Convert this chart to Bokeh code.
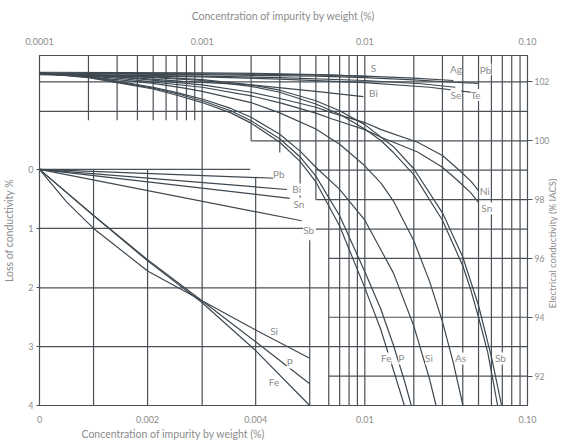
import math
from bokeh.plotting import figure
from bokeh.models import (Range1d, LinearScale, LinearAxis, FixedTicker,
                          ColumnDataSource, LabelSet, Title)
from bokeh.core.properties import value
from bokeh.embed import file_html
from bokeh.resources import INLINE

# ---------------- data ----------------
# main (log) chart: concentration (%) vs electrical conductivity (% IACS)
s_c = [0.0001, 0.001, 0.003, 0.006, 0.0105]
s_v = [102.33, 102.31, 102.28, 102.24, 102.18]
ag_c = [0.0001, 0.001, 0.005, 0.01, 0.02, 0.035]
ag_v = [102.30, 102.28, 102.24, 102.20, 102.13, 102.05]
pb_c = [0.0001, 0.001, 0.005, 0.01, 0.02, 0.035, 0.05]
pb_v = [102.28, 102.25, 102.20, 102.15, 102.07, 101.99, 101.95]
se_c = [0.0001, 0.001, 0.003, 0.01, 0.0222, 0.036]
se_v = [102.26, 102.20, 102.15, 102.05, 101.94, 101.82]
te_c = [0.0001, 0.001, 0.003, 0.01, 0.025, 0.05]
te_v = [102.25, 102.17, 102.10, 101.98, 101.82, 101.62]
bi_c = [0.0001, 0.0003, 0.00076, 0.002, 0.005, 0.0098]
bi_v = [102.27, 102.18, 102.02, 101.90, 101.68, 101.50]
ni_c = [0.0001, 0.0003, 0.001, 0.002, 0.0031, 0.005, 0.0063, 0.01, 0.0126,
        0.0211, 0.03, 0.0372, 0.045, 0.0501]
ni_v = [102.30, 102.17, 101.90, 101.65, 101.42, 101.14, 100.95, 100.62, 100.38,
        99.95, 99.50, 99.05, 98.62, 98.30]
sn_c = [0.0001, 0.0003, 0.001, 0.002, 0.0031, 0.005, 0.0063, 0.01, 0.0126,
        0.0211, 0.03, 0.0372, 0.045, 0.0501]
sn_v = [102.30, 102.13, 101.82, 101.53, 101.27, 100.94, 100.74, 100.38, 100.12,
        99.62, 99.10, 98.65, 98.22, 97.90]
fe_c = [0.0001, 0.0002, 0.0003, 0.0005, 0.0007, 0.001, 0.0015, 0.002, 0.003,
        0.004, 0.005, 0.007, 0.01, 0.0125, 0.015, 0.0175]
fe_v = [102.30, 102.15, 101.98, 101.76, 101.55, 101.30, 100.95, 100.60, 99.95,
        99.30, 98.60, 97.10, 95.00, 93.60, 92.20, 91.00]
p_c = [0.0001, 0.0002, 0.0003, 0.0005, 0.0007, 0.001, 0.0015, 0.002, 0.003,
       0.004, 0.005, 0.007, 0.01, 0.0125, 0.015, 0.0175, 0.0193]
p_v = [102.30, 102.17, 102.00, 101.79, 101.60, 101.36, 101.02, 100.68, 100.07,
       99.45, 98.80, 97.45, 95.55, 94.30, 93.05, 91.85, 91.00]
si_c = [0.0001, 0.0002, 0.0003, 0.0005, 0.0007, 0.001, 0.0015, 0.002, 0.003,
        0.004, 0.005, 0.007, 0.01, 0.015, 0.02, 0.025, 0.0274]
si_v = [102.30, 102.19, 102.03, 101.82, 101.64, 101.42, 101.10, 100.80, 100.22,
        99.65, 99.10, 98.35, 97.30, 95.50, 93.70, 91.90, 91.00]
as_c = [0.0001, 0.0003, 0.0005, 0.00076, 0.001, 0.002, 0.003, 0.005, 0.007,
        0.01, 0.0126, 0.015, 0.02, 0.025, 0.03, 0.035, 0.0401]
as_v = [102.30, 102.08, 101.95, 101.80, 101.68, 101.30, 100.95, 100.40, 99.88,
        99.15, 98.55, 97.95, 96.60, 95.22, 93.85, 92.45, 91.00]
sb_c = [0.0001, 0.0003, 0.0005, 0.001, 0.002, 0.003, 0.005, 0.007, 0.01, 0.0126,
        0.015, 0.02, 0.03, 0.04, 0.045, 0.05, 0.057, 0.0655]
sb_v = [102.30, 102.20, 102.15, 102.05, 101.85, 101.65, 101.25, 100.90, 100.40,
        100.00, 99.60, 98.85, 97.30, 95.75, 94.90, 94.00, 92.80, 91.00]
sb2_c = [0.0001, 0.0003, 0.0005, 0.001, 0.002, 0.003, 0.005, 0.007, 0.01, 0.015,
         0.02, 0.03, 0.04, 0.05, 0.06, 0.0693]
sb2_v = [102.30, 102.22, 102.17, 102.08, 101.90, 101.72, 101.36, 101.02, 100.55,
         99.80, 99.05, 97.55, 96.05, 94.40, 92.65, 91.00]

log_names = ["S", "Ag", "Pb", "Bi", "Se", "Te", "Ni", "Sn", "Fe", "P", "Si", "As", "Sb"]
log_label_c = [0.0113, 0.0363, 0.0553, 0.0113, 0.0363, 0.048, 0.0545, 0.0562,
               0.01355, 0.01677, 0.0248, 0.0388, 0.0681]
log_label_v = [102.48, 102.45, 102.42, 101.63, 101.56, 101.56, 98.31, 97.70,
               92.60, 92.60, 92.60, 92.60, 92.60]

# inset chart: concentration (%) vs loss of conductivity (%)
in_pb_c = [0, 0.00436];  in_pb_v = [0, 0.15]
in_bi_c = [0, 0.00458];  in_bi_v = [0, 0.34]
in_sn_c = [0, 0.00463];  in_sn_v = [0, 0.49]
in_sb_c = [0, 0.00485];  in_sb_v = [0, 0.87]
in_si_c = [0, 0.0005, 0.001, 0.002, 0.003, 0.004, 0.005]
in_si_v = [0, 0.55, 1.00, 1.72, 2.22, 2.72, 3.20]
in_p_c = [0, 0.001, 0.002, 0.003, 0.004, 0.005]
in_p_v = [0, 0.78, 1.53, 2.22, 2.92, 3.63]
in_fe_c = [0, 0.001, 0.002, 0.003, 0.004, 0.005]
in_fe_v = [0, 0.78, 1.55, 2.25, 3.07, 4.00]

in_names = ["Pb", "Bi", "Sn", "Sb", "Si", "P", "Fe"]
in_label_c = [0.00443, 0.00476, 0.0048, 0.00498, 0.00434, 0.00463, 0.00434]
in_label_v = [0.07, 0.34, 0.58, 1.02, 2.73, 3.27, 3.61]

# axis ticks
top_ticks = [0.0001, 0.001, 0.01, 0.1]
top_labels = ["0.0001", "0.001", "0.01", "0.10"]
right_ticks = [92, 94, 96, 98, 100, 102]
left_ticks = [0, 1, 2, 3, 4]
bottom_ticks = [0, 0.002, 0.004]
bottom_labels = ["0", "0.002", "0.004"]
bottom_log_ticks = [0.01, 0.1]
bottom_log_labels = ["0.01", "0.10"]

# grid of the log chart (value, lower end of the line in % IACS)
vgrid_c = [0.0002, 0.0003, 0.0004, 0.0005, 0.0006, 0.0007, 0.0008, 0.0009,
           0.001, 0.002, 0.003, 0.004, 0.005, 0.006, 0.007, 0.008, 0.009,
           0.01, 0.02, 0.03, 0.04, 0.05, 0.06, 0.07, 0.08, 0.09]
vgrid_low = [100.7, 100.7, 100.7, 100.7, 100.7, 100.7, 100.7, 100.7,
             91, 100, 99.6, 98, 98, 91, 91, 91, 91,
             91, 91, 91, 91, 91, 91, 91, 91, 91]
hgrid_v = [102, 101, 100, 99, 98, 97, 96, 95, 94, 93, 92]
hgrid_from = [0.0001, 0.0001, 0.002, 0.005, 0.005, 0.005, 0.006, 0.0001, 0.006, 0.0001, 0.006]
# grid of the inset (loss lines and concentration lines)
in_hgrid_v = [0, 1]
in_hgrid_to = [0.0039, 0.005]
in_vgrid_c = [0.001, 0.002, 0.004, 0.005]
in_vgrid_top = [0, 0, 0.14, 1.2]

# ---------------- styling ----------------
FONT = "Lato"
TXT = "#8c8c8c"
LINE = "#3e4850"
GRID = "#4a5056"
X_LO, X_HI = 0.0001, 0.1
Y_LO, Y_HI = 91, 102.9
INSET_X_END = 0.00903
LOSS_TOP = -1.93

p = figure(width=567, height=443, x_axis_type="log",
           x_range=Range1d(X_LO, X_HI), y_range=Range1d(Y_LO, Y_HI),
           x_axis_location="above", y_axis_location="right",
           toolbar_location=None, output_backend="svg",
           min_border_left=36, min_border_right=40, min_border_top=55,
           min_border_bottom=38)
p.extra_x_ranges = {"inset": Range1d(0, INSET_X_END)}
p.extra_x_scales = {"inset": LinearScale()}
p.extra_y_ranges = {"loss": Range1d(4, LOSS_TOP)}
p.extra_y_scales = {"loss": LinearScale()}
p.xgrid.visible = False
p.ygrid.visible = False
p.outline_line_color = GRID
p.outline_line_width = 1.2
p.background_fill_color = "white"
p.border_fill_color = "white"


def style_axis(ax, tick_out=0):
    ax.axis_line_color = GRID
    ax.major_tick_line_color = GRID
    ax.major_tick_out = tick_out
    ax.major_tick_in = 0
    ax.minor_tick_line_color = None
    ax.major_label_text_font = FONT
    ax.major_label_text_font_size = "9px"
    ax.major_label_text_color = TXT
    ax.axis_label_text_font = FONT
    ax.axis_label_text_font_size = "10.5px"
    ax.axis_label_text_font_style = "normal"
    ax.axis_label_text_color = TXT


top = p.xaxis[0]
top.ticker = FixedTicker(ticks=top_ticks)
top.major_label_overrides = dict(zip(top_ticks, top_labels))
top.axis_label = "Concentration of impurity by weight (%)"
style_axis(top)
top.major_label_standoff = 11
top.axis_label_standoff = 13

right = p.yaxis[0]
right.ticker = FixedTicker(ticks=right_ticks)
style_axis(right, tick_out=5)
right.major_label_standoff = 2
right.major_label_text_font_size = "8.5px"

# title of the conductivity scale, reading upwards from the lower part of the axis
right_title = LinearAxis(ticker=FixedTicker(ticks=[]),
                         axis_label="\u00a0" * 40 + "Electrical conductivity (% IACS)")
style_axis(right_title)
right_title.axis_line_color = None
right_title.axis_label_standoff = 0
right_title.major_label_standoff = 0
right_title.axis_label_text_font_size = "9.5px"
right_title.axis_label_orientation = math.pi / 2
right_title.axis_label_align = "start"
p.add_layout(right_title, "right")

left = LinearAxis(y_range_name="loss", ticker=FixedTicker(ticks=left_ticks),
                  bounds=(0, 4), axis_label="Loss of conductivity %")
style_axis(left, tick_out=3)
left.major_label_standoff = 3
left.axis_label_standoff = 10
p.add_layout(left, "left")


def log_to_inset(c):
    # position of a log-axis value on the (linear) inset x range
    return INSET_X_END * (math.log10(c) - math.log10(X_LO)) / (math.log10(X_HI) - math.log10(X_LO))


all_bottom_ticks = bottom_ticks + [log_to_inset(c) for c in bottom_log_ticks]
all_bottom_labels = bottom_labels + bottom_log_labels
bottom = LinearAxis(x_range_name="inset", ticker=FixedTicker(ticks=all_bottom_ticks))
bottom.major_label_overrides = dict(zip(all_bottom_ticks, all_bottom_labels))
style_axis(bottom)
bottom.major_label_standoff = 10
p.add_layout(bottom, "below")
p.add_layout(Title(text="Concentration of impurity by weight (%)", align="left",
                   offset=42, text_font=FONT, text_font_size="10.5px",
                   text_font_style="normal", text_color=TXT, standoff=0), "below")

# grid lines
p.segment(x0=vgrid_c, y0=vgrid_low, x1=vgrid_c, y1=[Y_HI] * len(vgrid_c),
          line_color=GRID, line_width=1.2)
p.segment(x0=hgrid_from, y0=hgrid_v, x1=[X_HI] * len(hgrid_v), y1=hgrid_v,
          line_color=GRID, line_width=1.2)
p.segment(x0=[0] * len(in_hgrid_v), y0=in_hgrid_v, x1=in_hgrid_to, y1=in_hgrid_v,
          line_color=GRID, line_width=1.2, x_range_name="inset", y_range_name="loss")
p.segment(x0=in_vgrid_c, y0=in_vgrid_top, x1=in_vgrid_c, y1=[4] * len(in_vgrid_c),
          line_color=GRID, line_width=1.2, x_range_name="inset", y_range_name="loss")

# curves of the log chart
for c, v in [(s_c, s_v), (ag_c, ag_v), (pb_c, pb_v), (se_c, se_v), (te_c, te_v),
             (bi_c, bi_v), (ni_c, ni_v), (sn_c, sn_v), (fe_c, fe_v), (p_c, p_v),
             (si_c, si_v), (as_c, as_v), (sb_c, sb_v), (sb2_c, sb2_v)]:
    p.line(c, v, line_color=LINE, line_width=1.2)

# curves of the inset
for c, v in [(in_pb_c, in_pb_v), (in_bi_c, in_bi_v), (in_sn_c, in_sn_v),
             (in_sb_c, in_sb_v), (in_si_c, in_si_v), (in_p_c, in_p_v),
             (in_fe_c, in_fe_v)]:
    p.line(c, v, line_color=LINE, line_width=1.2,
           x_range_name="inset", y_range_name="loss")

log_src = ColumnDataSource(dict(x=log_label_c, y=log_label_v, t=log_names))
p.add_layout(LabelSet(x="x", y="y", text="t", source=log_src,
                      text_font=value(FONT), text_font_size="10px", text_color=TXT,
                      text_align="center", text_baseline="middle",
                      background_fill_color="white"))
in_src = ColumnDataSource(dict(x=in_label_c, y=in_label_v, t=in_names))
p.add_layout(LabelSet(x="x", y="y", text="t", source=in_src,
                      x_range_name="inset", y_range_name="loss",
                      text_font=value(FONT), text_font_size="10px", text_color=TXT,
                      text_align="center", text_baseline="middle",
                      background_fill_color="white"))

open("out.html", "w").write(file_html(p, INLINE))
